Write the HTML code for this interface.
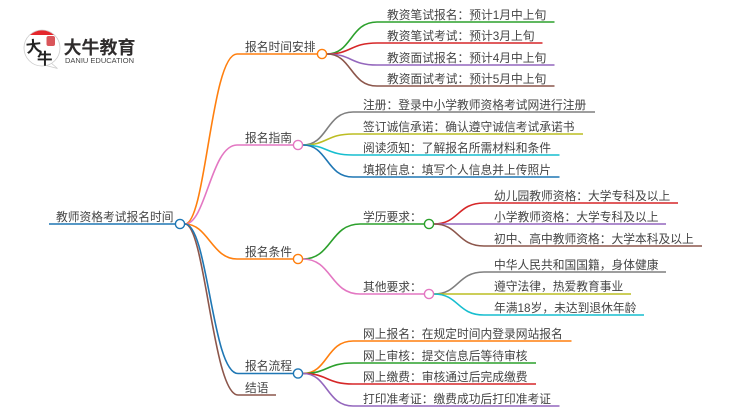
<!DOCTYPE html>
<html><head><meta charset="utf-8">
<style>
html,body{margin:0;padding:0;background:#fff;width:750px;height:410px;overflow:hidden}
svg{display:block;filter:blur(0.3px)}
text{font-family:"Liberation Sans","Noto Sans CJK SC",sans-serif;font-size:11.75px;fill:#444}
path{fill:none;stroke-width:1.6}
circle{fill:#fff;stroke-width:1.4}
</style></head><body>
<svg width="750" height="410" viewBox="0 0 750 410" xmlns="http://www.w3.org/2000/svg">
<!-- logo -->
<path d="M50 62 L57.500 68.500 L46 65.500" style="fill:#fff;stroke:#ccc;stroke-width:.8"/>
<circle cx="42" cy="48" r="18" style="fill:#fff;stroke:#ccc;stroke-width:.8"/>
<path d="M30 35 A18 18 0 0 1 54 35 Z" style="fill:#e4262c;stroke:none"/>
<text x="26" y="52" transform="rotate(-6 33 47)" style="font-size:15.500px;font-weight:bold;fill:#222">大</text>
<text x="37" y="64" style="font-size:15.500px;font-weight:bold;fill:#222">牛</text>
<rect x="46.500" y="36" width="8.500" height="10" rx="2" fill="#d9555a"/>
<text x="63.500" y="54" style="font-size:18px;font-weight:bold;fill:#2f2c2c">大牛教育</text>
<text x="65" y="63" textLength="69" lengthAdjust="spacingAndGlyphs" style="font-size:7px;fill:#444">DANIU EDUCATION</text>

<!-- root -->
<path stroke="#1f77b4" d="M49 224H175"/>
<path stroke="#ff7f0e" d="M185 224C206 224 211 54 237 54H317"/>
<path stroke="#e377c2" d="M185 224C206 224 211 145 237 145H293"/>
<path stroke="#ff7f0e" d="M185 224C208 224 212 259 237 259H293"/>
<path stroke="#8c564b" d="M185 224C205 224 213 395 238 395H276"/>
<path stroke="#1f77b4" d="M185 224C208 224 212 373.500 238 373.500H293"/>

<!-- time -->
<path stroke="#2ca02c" d="M327 54C352 54 350 22 377 22H554.500"/>
<path stroke="#d62728" d="M327 54C352 54 350 43 377 43H542.500"/>
<path stroke="#9467bd" d="M327 54C352 54 350 65 377 65H554.500"/>
<path stroke="#8c564b" d="M327 54C352 54 350 86 377 86H554.500"/>
<!-- guide -->
<path stroke="#7f7f7f" d="M303 145C328 145 326 112 353 112H595"/>
<path stroke="#bcbd22" d="M303 145C328 145 326 134 353 134H583"/>
<path stroke="#17becf" d="M303 145C328 145 326 155 353 155H559.500"/>
<path stroke="#1f77b4" d="M303 145C328 145 326 177 353 177H559.500"/>
<!-- conditions -->
<path stroke="#2ca02c" d="M303 259C332 259 330 224 360 224H424"/>
<path stroke="#e377c2" d="M303 259C332 259 330 294 360 294H424"/>
<path stroke="#d62728" d="M434 224C459 224 457 203 484 203H678"/>
<path stroke="#9467bd" d="M434 224H666"/>
<path stroke="#8c564b" d="M434 224C459 224 457 246 484 246H702"/>
<path stroke="#7f7f7f" d="M434 294C459 294 457 272 484 272H666"/>
<path stroke="#bcbd22" d="M434 294H631"/>
<path stroke="#17becf" d="M434 294C459 294 457 315 484 315H644"/>
<!-- flow -->
<path stroke="#ff7f0e" d="M303 373.500C328 373.500 326 341 353 341H571.500"/>
<path stroke="#2ca02c" d="M303 373.500C328 373.500 326 363 353 363H536"/>
<path stroke="#d62728" d="M303 373.500C328 373.500 326 384 353 384H536"/>
<path stroke="#9467bd" d="M303 373.500C328 373.500 326 406 353 406H559.500"/>

<circle cx="180" cy="224" r="4.600" stroke="#1f77b4"/>
<circle cx="322" cy="54" r="4.600" stroke="#ff7f0e"/>
<circle cx="298" cy="145" r="4.600" stroke="#e377c2"/>
<circle cx="298" cy="259" r="4.600" stroke="#ff7f0e"/>
<circle cx="298" cy="373.500" r="4.600" stroke="#1f77b4"/>
<circle cx="429" cy="224" r="4.600" stroke="#2ca02c"/>
<circle cx="429" cy="294" r="4.600" stroke="#e377c2"/>

<text x="56" y="221">教师资格考试报名时间</text>
<text x="245" y="51">报名时间安排</text>
<text x="245" y="142">报名指南</text>
<text x="245" y="256">报名条件</text>
<text x="245" y="370">报名流程</text>
<text x="245" y="392">结语</text>

<text x="387" y="19">教资笔试报名：预计1月中上旬</text>
<text x="387" y="40">教资笔试考试：预计3月上旬</text>
<text x="387" y="62">教资面试报名：预计4月中上旬</text>
<text x="387" y="83">教资面试考试：预计5月中上旬</text>

<text x="363" y="109">注册：登录中小学教师资格考试网进行注册</text>
<text x="363" y="131">签订诚信承诺：确认遵守诚信考试承诺书</text>
<text x="363" y="152">阅读须知：了解报名所需材料和条件</text>
<text x="363" y="174">填报信息：填写个人信息并上传照片</text>

<text x="363" y="221">学历要求：</text>
<text x="363" y="291">其他要求：</text>

<text x="494" y="200">幼儿园教师资格：大学专科及以上</text>
<text x="494" y="221">小学教师资格：大学专科及以上</text>
<text x="494" y="243">初中、高中教师资格：大学本科及以上</text>
<text x="494" y="269">中华人民共和国国籍，身体健康</text>
<text x="494" y="290.500">遵守法律，热爱教育事业</text>
<text x="494" y="312">年满18岁，未达到退休年龄</text>

<text x="363" y="338">网上报名：在规定时间内登录网站报名</text>
<text x="363" y="360">网上审核：提交信息后等待审核</text>
<text x="363" y="381">网上缴费：审核通过后完成缴费</text>
<text x="363" y="403">打印准考证：缴费成功后打印准考证</text>
</svg>
</body></html>
